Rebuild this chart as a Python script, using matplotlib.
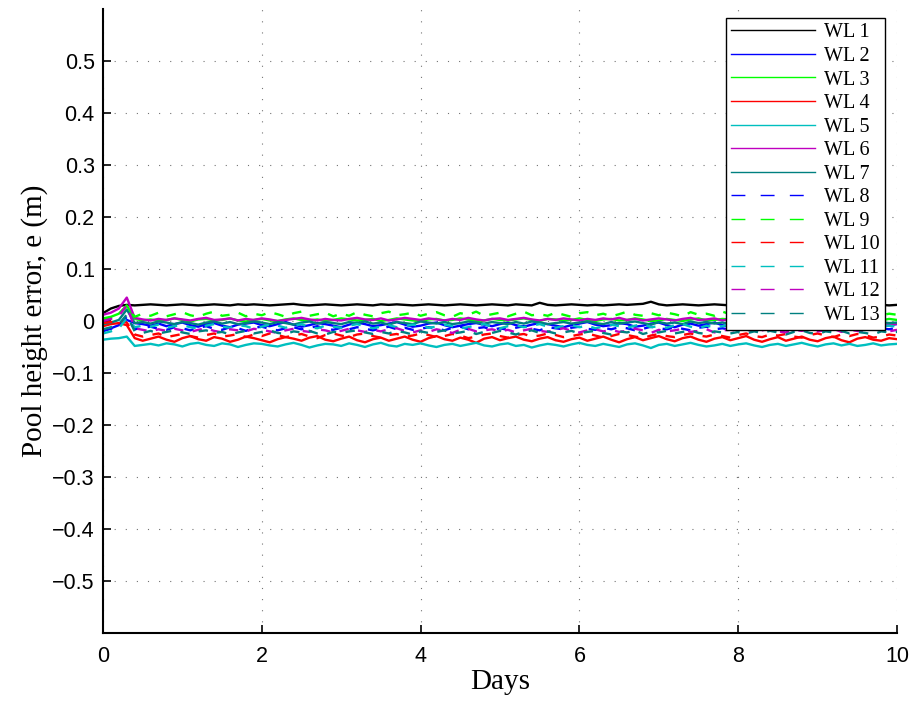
import numpy as np
import matplotlib
matplotlib.use('Agg')
import matplotlib.pyplot as plt

# pool height errors, in mm, one value every 0.1 day
days = np.round(np.arange(101) * 0.1, 1)

wl1 = [15, 24, 29, 31, 30, 31, 32, 31, 30, 31,
       32, 31, 30, 31, 32, 31, 30, 32, 31, 32,
       31, 30, 31, 32, 33, 31, 30, 31, 32, 31,
       30, 31, 32, 31, 30, 32, 31, 32, 31, 30,
       31, 32, 31, 30, 31, 32, 31, 30, 31, 32,
       31, 30, 32, 31, 30, 35, 31, 30, 31, 32,
       31, 30, 31, 30, 31, 32, 31, 32, 33, 37,
       32, 30, 31, 32, 31, 30, 31, 32, 31, 30,
       31, 32, 31, 30, 31, 32, 31, 30, 31, 32,
       31, 30, 31, 32, 31, 30, 31, 32, 31, 30, 31]
wl2 = [-20, -14, -8, 2, -4, -6, -9, -5, -10, -6,
       -3, -8, -11, -6, -4, -9, -12, -7, -5, -3,
       -8, -10, -6, -2, -7, -11, -8, -4, -6, -9,
       -12, -7, -3, -6, -10, -8, -5, -2, -7, -11,
       -9, -5, -3, -8, -12, -9, -6, -4, -7, -10,
       -6, -3, -8, -11, -7, -4, -6, -9, -12, -8,
       -5, -2, -7, -10, -8, -4, -6, -11, -9, -5,
       -3, -8, -12, -7, -5, -9, -6, -3, -8, -11,
       -7, -4, -6, -10, -12, -8, -5, -3, -7, -9,
       -11, -6, -4, -8, -10, -7, -5, -9, -12, -8, -6]
wl3 = [5, 8, 14, 30, 4, 1, 3, 0, 2, 5,
       2, -1, 3, 4, 1, 2, 5, 1, -1, 2,
       4, 1, 0, 3, 5, 2, 1, 3, 0, 2,
       5, 3, 1, 2, 4, 0, 2, 5, 3, 1,
       0, 3, 4, 1, 2, 5, 3, 0, 1, 4,
       2, 1, 3, 5, 2, 0, 4, 3, 1, 2,
       5, 2, 0, 3, 4, 1, 2, 5, 3, 0,
       1, 4, 2, 0, 3, 5, 1, 2, 4, 3,
       0, 2, 5, 3, 1, 4, 2, 0, 3, 5,
       2, 1, 4, 3, 0, 2, 5, 3, 1, 4, 2]
wl4 = [-10, -6, -4, -8, -33, -38, -34, -30, -36, -40,
       -33, -29, -35, -38, -31, -34, -40, -36, -30, -33,
       -37, -41, -35, -31, -34, -38, -32, -29, -36, -39,
       -34, -30, -37, -41, -35, -32, -38, -34, -30, -36,
       -40, -33, -29, -35, -38, -32, -36, -42, -34, -31,
       -37, -33, -30, -36, -39, -34, -31, -37, -40, -35,
       -32, -38, -34, -30, -36, -41, -35, -31, -37, -33,
       -29, -35, -39, -33, -30, -36, -40, -34, -31, -37,
       -33, -29, -36, -40, -35, -31, -38, -34, -30, -36,
       -39, -33, -30, -37, -41, -34, -31, -36, -38, -33, -35]
wl5 = [-36, -34, -33, -30, -48, -46, -44, -47, -43, -45,
       -49, -44, -42, -46, -48, -43, -45, -50, -46, -43,
       -44, -47, -49, -45, -42, -46, -51, -47, -44, -45,
       -48, -43, -46, -50, -45, -42, -47, -49, -44, -46,
       -43, -47, -50, -46, -44, -48, -45, -42, -47, -49,
       -45, -43, -48, -46, -51, -47, -44, -46, -49, -45,
       -42, -46, -48, -44, -47, -50, -45, -43, -47, -52,
       -46, -44, -48, -45, -42, -46, -49, -47, -44, -48,
       -45, -43, -47, -50, -46, -44, -48, -45, -42, -46,
       -49, -45, -43, -47, -44, -48, -46, -43, -47, -45, -44]
wl6 = [12, 16, 24, 45, 6, 3, 1, 4, 2, 5,
       3, 1, 4, 6, 2, 3, 5, 1, 4, 2,
       5, 3, 0, 2, 4, 6, 3, 1, 4, 2,
       1, 4, 6, 3, 2, 5, 1, 3, 6, 4,
       2, 5, 3, 1, 4, 2, 6, 3, 1, 4,
       5, 2, 4, 6, 3, 1, 4, 2, 5, 3,
       1, 4, 2, 5, 3, 6, 2, 4, 1, 3,
       5, 3, 1, 4, 6, 2, 3, 5, 1, 4,
       2, 6, 3, 1, 4, 2, 5, 3, 6, 2,
       4, 1, 3, 5, 2, 4, 0, -3, -6, -8, -5]
wl7 = [-6, -3, 2, 22, -4, -2, -5, -1, -3, -6,
       -2, -4, -7, -3, -1, -5, -2, -6, -4, -1,
       -3, -6, -2, -4, -7, -3, -1, -5, -2, -4,
       -6, -2, -4, -1, -5, -3, -7, -2, -4, -6,
       -1, -3, -5, -2, -6, -4, -1, -3, -5, -2,
       -4, -6, -2, -5, -1, -3, -6, -4, -2, -5,
       -3, -1, -4, -6, -2, -5, -3, -1, -4, -7,
       -2, -5, -3, -6, -1, -4, -2, -5, -3, -6,
       -4, -1, -5, -2, -6, -3, -4, -1, -5, -2,
       -6, -3, -2, -4, -1, -5, -3, -6, -2, -4, -3]
wl8 = [-18, -15, -10, 8, -16, -13, -11, -15, -17, -12,
       -14, -18, -13, -10, -15, -17, -12, -14, -19, -13,
       -11, -15, -18, -14, -12, -16, -13, -10, -15, -17,
       -13, -16, -12, -15, -18, -14, -11, -16, -13, -17,
       -15, -12, -14, -18, -13, -11, -16, -14, -12, -17,
       -14, -17, -13, -10, -15, -18, -12, -14, -16, -13,
       -11, -15, -17, -13, -16, -12, -14, -18, -15, -11,
       -14, -16, -12, -15, -18, -13, -11, -16, -14, -17,
       -12, -15, -13, -17, -14, -11, -16, -18, -13, -15,
       -17, -12, -14, -16, -13, -18, -15, -11, -14, -16, -13]
wl9 = [2, 6, 12, 28, 8, 14, 10, 16, 9, 13,
       17, 11, 8, 14, 18, 10, 12, 16, 9, 14,
       11, 17, 13, 8, 15, 18, 10, 13, 16, 9,
       14, 10, 17, 12, 9, 15, 18, 11, 13, 16,
       10, 14, 17, 11, 8, 15, 12, 18, 10, 13,
       16, 9, 14, 18, 11, 13, 10, 16, 12, 8,
       15, 17, 11, 14, 9, 13, 18, 12, 10, 15,
       11, 16, 13, 9, 17, 12, 14, 10, 18, 13,
       9, 15, 12, 17, 10, 14, 16, 11, 13, 8,
       14, 17, 10, 13, 16, 12, 9, 15, 11, 14, 12]
wl10 = [-4, -2, 0, -3, -26, -30, -27, -24, -31, -28,
        -25, -29, -32, -27, -24, -30, -28, -25, -31, -26,
        -29, -24, -27, -31, -28, -25, -30, -33, -27, -24,
        -28, -31, -26, -24, -29, -32, -27, -25, -30, -28,
        -24, -27, -31, -29, -25, -28, -33, -30, -26, -24,
        -29, -32, -27, -25, -30, -28, -24, -27, -31, -29,
        -26, -24, -28, -32, -29, -25, -27, -30, -33, -28,
        -25, -29, -31, -27, -24, -28, -30, -26, -29, -32,
        -27, -24, -29, -31, -26, -28, -25, -30, -32, -27,
        -24, -28, -31, -26, -29, -25, -27, -32, -30, -26, -28]
wl11 = [-24, -20, -14, 5, -12, -9, -11, -7, -13, -10,
        -8, -12, -14, -9, -6, -11, -13, -8, -10, -15,
        -11, -7, -9, -13, -10, -6, -12, -14, -9, -11,
        -13, -9, -6, -10, -14, -11, -8, -12, -10, -7,
        -9, -13, -11, -7, -10, -14, -12, -8, -6, -11,
        -14, -10, -8, -12, -9, -6, -11, -13, -10, -8,
        -12, -9, -14, -11, -7, -10, -13, -9, -6, -12,
        -10, -13, -8, -6, -11, -14, -9, -12, -10, -7,
        -11, -8, -13, -10, -14, -9, -7, -12, -11, -13,
        -9, -12, -10, -7, -13, -11, -8, -14, -10, -9, -11]
wl12 = [0, 4, 10, 30, -14, -17, -20, -16, -19, -15,
        -18, -21, -17, -14, -19, -22, -16, -18, -20, -15,
        -17, -20, -23, -18, -15, -19, -21, -16, -18, -22,
        -19, -15, -18, -21, -17, -20, -16, -14, -19, -22,
        -18, -21, -16, -19, -23, -17, -15, -20, -18, -16,
        -20, -17, -22, -18, -15, -19, -21, -17, -14, -19,
        -22, -18, -16, -20, -17, -21, -19, -15, -18, -23,
        -17, -20, -18, -15, -21, -19, -16, -22, -18, -17,
        -19, -16, -21, -18, -15, -20, -22, -17, -19, -16,
        -20, -18, -15, -21, -17, -19, -22, -16, -18, -20, -17]
wl13 = [-16, -12, -6, 12, -20, -23, -19, -24, -21, -18,
        -22, -25, -20, -18, -23, -21, -26, -22, -19, -24,
        -21, -18, -23, -25, -20, -22, -19, -24, -26, -21,
        -23, -20, -18, -22, -25, -21, -24, -19, -22, -26,
        -20, -23, -21, -18, -24, -22, -19, -25, -21, -23,
        -19, -22, -26, -21, -18, -23, -20, -24, -22, -19,
        -24, -21, -19, -23, -26, -20, -22, -18, -25, -21,
        -22, -19, -24, -21, -18, -23, -25, -20, -22, -24,
        -21, -24, -20, -23, -19, -22, -26, -21, -18, -23,
        -25, -20, -22, -19, -24, -21, -23, -26, -20, -22, -21]

series = [wl1, wl2, wl3, wl4, wl5, wl6, wl7, wl8, wl9, wl10, wl11, wl12, wl13]
labels = ['WL %d' % (i + 1) for i in range(13)]
colors = ['k', 'b', '#00ff00', 'r', 'c', 'm', '#008080',
          'b', '#00ff00', 'r', 'c', 'm', '#008080']

plt.rcParams['font.family'] = ['Liberation Sans', 'DejaVu Sans']
serif = ['Liberation Serif', 'DejaVu Serif']

fig = plt.figure(figsize=(9.16, 7.01), dpi=100)
ax = fig.add_axes([0.1124, 0.097, 0.8669, 0.8902])

for i, (vals, lab, col) in enumerate(zip(series, labels, colors)):
    e = np.array(vals) / 1000.
    if i < 7:
        ax.plot(days, e, color=col, lw=1.7, label=lab)
    else:
        ax.plot(days, e, color=col, lw=1.7, dashes=(4, 4), label=lab)

ax.set_xlim(0, 10)
ax.set_ylim(-0.6, 0.6)
ax.set_xticks([0, 2, 4, 6, 8, 10])
ax.set_yticks(np.round(np.arange(-0.5, 0.51, 0.1), 1))
ax.set_yticklabels(['\u22120.5', '\u22120.4', '\u22120.3', '\u22120.2', '\u22120.1',
                    '0', '0.1', '0.2', '0.3', '0.4', '0.5'])
ax.tick_params(direction='in', length=6, width=1.2, labelsize=15.5)
ax.tick_params(axis='x', pad=9)
ax.tick_params(axis='y', pad=6)

ax.spines['top'].set_visible(False)
ax.spines['right'].set_visible(False)
ax.spines['left'].set_linewidth(1.5)
ax.spines['bottom'].set_linewidth(1.5)

ax.grid(True, color='k', alpha=0.55, lw=0.8, linestyle=(0, (1, 9)))

ax.set_xlabel('Days', family=serif, fontsize=21, labelpad=2)
ax.set_ylabel('Pool height error, e (m)', family=serif, fontsize=21, labelpad=3)

leg = ax.legend(loc='upper right', bbox_to_anchor=(0.985, 0.985),
                prop={'family': serif, 'size': 14.5}, frameon=True, fancybox=False,
                edgecolor='k', framealpha=1, handlelength=4.2, handletextpad=0.45,
                labelspacing=0.22, borderpad=0.25, borderaxespad=0.)
leg.get_frame().set_linewidth(1.0)
for h in leg.get_lines():
    h.set_linewidth(1.0)
    if h.get_linestyle() != '-':
        h.set_dashes((10, 11))

fig.savefig('out.png', dpi=100)
